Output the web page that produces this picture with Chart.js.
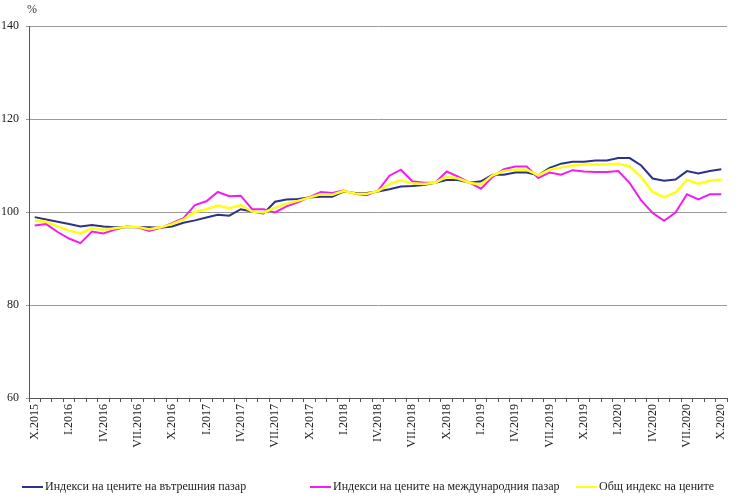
<!DOCTYPE html>
<html>
<head>
<meta charset="utf-8">
<script src="https://cdn.jsdelivr.net/npm/chart.js@4"></script>
<style>
  html, body { margin: 0; padding: 0; background: #fff; }
  #wrap { width: 740px; height: 503px; }
</style>
</head>
<body>
<div id="wrap"><canvas id="chart"></canvas></div>
<script>
const months = [
  'X.2015', 'XI.2015', 'XII.2015',
  'I.2016', 'II.2016', 'III.2016', 'IV.2016', 'V.2016', 'VI.2016', 'VII.2016', 'VIII.2016', 'IX.2016', 'X.2016', 'XI.2016', 'XII.2016',
  'I.2017', 'II.2017', 'III.2017', 'IV.2017', 'V.2017', 'VI.2017', 'VII.2017', 'VIII.2017', 'IX.2017', 'X.2017', 'XI.2017', 'XII.2017',
  'I.2018', 'II.2018', 'III.2018', 'IV.2018', 'V.2018', 'VI.2018', 'VII.2018', 'VIII.2018', 'IX.2018', 'X.2018', 'XI.2018', 'XII.2018',
  'I.2019', 'II.2019', 'III.2019', 'IV.2019', 'V.2019', 'VI.2019', 'VII.2019', 'VIII.2019', 'IX.2019', 'X.2019', 'XI.2019', 'XII.2019',
  'I.2020', 'II.2020', 'III.2020', 'IV.2020', 'V.2020', 'VI.2020', 'VII.2020', 'VIII.2020', 'IX.2020', 'X.2020'
];

// domestic market
const domestic = [
  98.9, 98.4, 97.9,
  97.4, 96.9, 97.2, 96.9, 96.7, 96.7, 96.8, 96.7, 96.6, 96.9, 97.7, 98.2,
  98.8, 99.4, 99.2, 100.6, 100.1, 99.7, 102.2, 102.7, 102.8, 103.1, 103.3, 103.3,
  104.4, 104.1, 104.1, 104.4, 104.9, 105.5, 105.6, 105.8, 106.3, 106.9, 106.9, 106.3,
  106.6, 108.0, 108.0, 108.5, 108.5, 107.9, 109.5, 110.4, 110.8, 110.8, 111.1, 111.1,
  111.6, 111.6, 110.0, 107.2, 106.7, 107.0, 108.8, 108.3, 108.8, 109.2
];

// international market
const international = [
  97.1, 97.4, 95.7,
  94.3, 93.3, 95.8, 95.4, 96.2, 96.9, 96.7, 95.9, 96.6, 97.6, 98.7, 101.5,
  102.3, 104.3, 103.4, 103.5, 100.6, 100.6, 99.9, 101.2, 102.1, 103.2, 104.3, 104.1,
  104.6, 103.9, 103.6, 104.6, 107.8, 109.1, 106.6, 106.3, 106.3, 108.7, 107.6, 106.3,
  105.0, 107.5, 109.2, 109.8, 109.8, 107.3, 108.5, 108.0, 109.0, 108.7, 108.6, 108.6,
  108.8, 106.2, 102.5, 99.8, 98.1, 99.9, 103.8, 102.7, 103.8, 103.8
];

// total index
const total = [
  98.1, 97.9, 96.9,
  96.0, 95.4, 96.5, 96.2, 96.5, 96.8, 96.8, 96.3, 96.7, 97.4, 98.4, 100.0,
  100.6, 101.4, 100.8, 101.5, 100.1, 99.9, 100.9, 101.8, 102.4, 103.1, 103.8, 103.7,
  104.5, 104.0, 103.9, 104.5, 106.0, 106.8, 106.2, 106.0, 106.3, 107.6, 107.2, 106.3,
  105.9, 107.9, 108.8, 109.1, 109.1, 107.9, 109.1, 109.6, 110.0, 110.2, 110.2, 110.2,
  110.4, 109.8, 107.5, 104.3, 103.2, 104.2, 106.9, 106.1, 106.7, 107.0
];

const seriesNames = [
  'Индекси на цените на вътрешния пазар',
  'Индекси на цените на международния пазар',
  'Общ индекс на цените'
];
const yTicks = [60, 80, 100, 120, 140];

const serif = "'Liberation Serif', 'Times New Roman', serif";
const legendX = [22, 310, 576];

// "%" above the y axis
const percentSign = {
  id: 'percentSign',
  afterDraw(chart) {
    const { ctx, chartArea } = chart;
    ctx.save();
    ctx.font = '12px ' + serif;
    ctx.fillStyle = '#333';
    ctx.textAlign = 'left';
    ctx.textBaseline = 'middle';
    ctx.fillText('%', chartArea.left - 2, 10);
    ctx.restore();
  }
};

// legend drawn by hand so the items sit where the original puts them
const bottomLegend = {
  id: 'bottomLegend',
  afterDraw(chart) {
    const ctx = chart.ctx;
    const y = 487;
    ctx.save();
    ctx.font = '12px ' + serif;
    ctx.textAlign = 'left';
    ctx.textBaseline = 'middle';
    chart.data.datasets.forEach((ds, i) => {
      const x = legendX[i];
      ctx.strokeStyle = ds.borderColor;
      ctx.lineWidth = 2;
      ctx.beginPath();
      ctx.moveTo(x, y);
      ctx.lineTo(x + 21, y);
      ctx.stroke();
      ctx.fillStyle = '#222';
      ctx.fillText(ds.label, x + 23, y);
    });
    ctx.restore();
  }
};

new Chart(document.getElementById('chart'), {
  type: 'line',
  data: {
    labels: months,
    datasets: [
      { label: seriesNames[0], data: domestic, borderColor: '#2e3188', backgroundColor: '#2e3188', borderWidth: 2, order: 2 },
      { label: seriesNames[1], data: international, borderColor: '#f01ef0', backgroundColor: '#f01ef0', borderWidth: 2, order: 1 },
      { label: seriesNames[2], data: total, borderColor: '#ffff14', backgroundColor: '#ffff14', borderWidth: 2.5, order: 0 }
    ]
  },
  options: {
    responsive: true,
    maintainAspectRatio: false,
    animation: false,
    elements: { point: { radius: 0 }, line: { tension: 0 } },
    layout: { padding: { top: 26, right: 13, left: 0, bottom: 33 } },
    plugins: {
      tooltip: { enabled: false },
      legend: { display: false }
    },
    scales: {
      x: {
        offset: true,
        grid: { display: true, drawOnChartArea: false, drawTicks: true, tickLength: 4, offset: true, color: '#555' },
        border: { color: '#555', width: 1 },
        ticks: {
          autoSkip: false,
          minRotation: 90,
          maxRotation: 90,
          padding: 2,
          color: '#222',
          font: { family: serif, size: 12 },
          callback: (v, i) => (i % 3 === 0 ? months[i] : '')
        },
        afterFit: (s) => { s.height = 72; }
      },
      y: {
        min: 60,
        max: 140,
        afterBuildTicks: (s) => { s.ticks = yTicks.map(v => ({ value: v })); },
        grid: { color: '#9a9a9a', lineWidth: 1, drawTicks: true, tickLength: 3 },
        border: { color: '#555', width: 1 },
        ticks: { color: '#222', padding: 7, font: { family: serif, size: 12 } },
        afterFit: (s) => { s.width = 29; }
      }
    }
  },
  plugins: [percentSign, bottomLegend]
});
</script>
</body>
</html>
